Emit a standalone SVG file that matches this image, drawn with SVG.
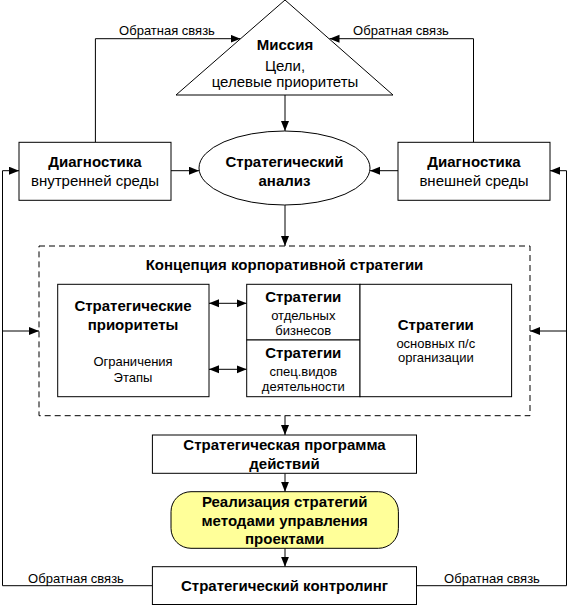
<svg xmlns="http://www.w3.org/2000/svg" width="569" height="606" viewBox="0 0 569 606">
<defs>
<marker id="ah" markerUnits="userSpaceOnUse" markerWidth="11" markerHeight="9" refX="10" refY="4" orient="auto"><path d="M0,0 L10,4 L0,8 z" fill="#000"/></marker>
<marker id="as" markerUnits="userSpaceOnUse" markerWidth="11" markerHeight="9" refX="0" refY="4" orient="auto"><path d="M10,0 L0,4 L10,8 z" fill="#000"/></marker>
<style>
.s{fill:#fff;stroke:#000;stroke-width:1}
.c{fill:none;stroke:#000;stroke-width:1}
text{font-family:"Liberation Sans",Arial,sans-serif;text-anchor:middle;fill:#000}
.b{font-weight:bold;font-size:15px}
.n{font-size:15px}
.sm{font-size:13px}
.lb{font-size:13px}
</style>
</defs>
<g id="connectors">
<path class="c" d="M95.4,142.3 V38.7 H240.5" marker-end="url(#ah)"/>
<path class="c" d="M473.5,142.3 V38.7 H329.5" marker-end="url(#ah)"/>
<path class="c" d="M285,95 V131" marker-end="url(#ah)"/>
<path class="c" d="M171,170.7 H199" marker-end="url(#ah)"/>
<path class="c" d="M398,170.7 H370" marker-end="url(#ah)"/>
<path class="c" d="M285,205 V246" marker-end="url(#ah)"/>
<path class="c" d="M285,415.7 V435" marker-end="url(#ah)"/>
<path class="c" d="M285,473.3 V491.7" marker-end="url(#ah)"/>
<path class="c" d="M285,548.3 V566.7" marker-end="url(#ah)"/>
<path class="c" d="M152.4,585.7 H2.5 V170.7 H19" marker-end="url(#ah)"/>
<path class="c" d="M2.5,331 H39" marker-end="url(#ah)"/>
<path class="c" d="M416.5,585.7 H566.5 V170.7 H550" marker-end="url(#ah)"/>
<path class="c" d="M566.5,331 H530" marker-end="url(#ah)"/>
<path class="c" d="M209,303.3 H246.7" marker-start="url(#as)" marker-end="url(#ah)"/>
<path class="c" d="M209,369.3 H246.7" marker-start="url(#as)" marker-end="url(#ah)"/>
<text class="lb" x="167" y="35">Обратная связь</text>
<text class="lb" x="401" y="35">Обратная связь</text>
<text class="lb" x="76" y="582.5">Обратная связь</text>
<text class="lb" x="492" y="582.5">Обратная связь</text>
</g>
<g id="mission">
<polygon class="s" points="285,0 176,95 393,95"/>
<text class="b" x="285" y="49.5">Миссия</text>
<text class="n" x="285" y="70.5">Цели,</text>
<text class="n" x="285" y="87">целевые приоритеты</text>
</g>
<g id="diag-internal">
<rect class="s" x="19" y="142.3" width="152" height="58"/>
<text class="b" x="95" y="166.5">Диагностика</text>
<text class="n" x="95" y="185.5">внутренней среды</text>
</g>
<g id="analysis">
<ellipse class="s" cx="284.5" cy="168" rx="85.5" ry="37"/>
<text class="b" x="284.5" y="166.5">Стратегический</text>
<text class="b" x="284.5" y="185.5">анализ</text>
</g>
<g id="diag-external">
<rect class="s" x="398" y="142.3" width="152" height="58"/>
<text class="b" x="474" y="166.5">Диагностика</text>
<text class="n" x="474" y="185.5">внешней среды</text>
</g>
<g id="concept">
<rect x="39" y="246" width="491" height="169.7" fill="none" stroke="#000" stroke-width="1" stroke-dasharray="6,4"/>
<text class="b" x="284.5" y="269.5">Концепция корпоративной стратегии</text>
</g>
<g id="priorities">
<rect class="s" x="57.7" y="284.3" width="151.3" height="112.4"/>
<text class="b" x="133" y="311">Стратегические</text>
<text class="b" x="133" y="330">приоритеты</text>
<text class="sm" x="133" y="366">Ограничения</text>
<text class="sm" x="133" y="381.5">Этапы</text>
</g>
<g id="business">
<rect class="s" x="246.7" y="284.3" width="113.3" height="55.7"/>
<text class="b" x="303.3" y="301.5">Стратегии</text>
<text class="sm" x="303.3" y="319.5">отдельных</text>
<text class="sm" x="303.3" y="334.5">бизнесов</text>
</g>
<g id="special">
<rect class="s" x="246.7" y="340" width="113.3" height="56.7"/>
<text class="b" x="303.3" y="358">Стратегии</text>
<text class="sm" x="303.3" y="376">спец.видов</text>
<text class="sm" x="303.3" y="390.5">деятельности</text>
</g>
<g id="units">
<rect class="s" x="360" y="284.3" width="151.6" height="112.4"/>
<text class="b" x="435.8" y="329.5">Стратегии</text>
<text class="sm" x="435.8" y="347.5">основных п/с</text>
<text class="sm" x="435.8" y="362">организации</text>
</g>
<g id="program">
<rect class="s" x="152.4" y="435" width="264.1" height="38.3"/>
<text class="b" x="284.5" y="450">Стратегическая программа</text>
<text class="b" x="284.5" y="468.5">действий</text>
</g>
<g id="implementation">
<rect x="171" y="491.7" width="227.4" height="56.6" rx="20" ry="20" fill="#ffff99" stroke="#000" stroke-width="1"/>
<text class="b" x="284.7" y="507">Реализация стратегий</text>
<text class="b" x="284.7" y="525.5">методами управления</text>
<text class="b" x="284.7" y="544">проектами</text>
</g>
<g id="controlling">
<rect class="s" x="152.4" y="566.7" width="264.1" height="37.8"/>
<text class="b" x="284.5" y="590.5">Стратегический контролинг</text>
</g>
</svg>
